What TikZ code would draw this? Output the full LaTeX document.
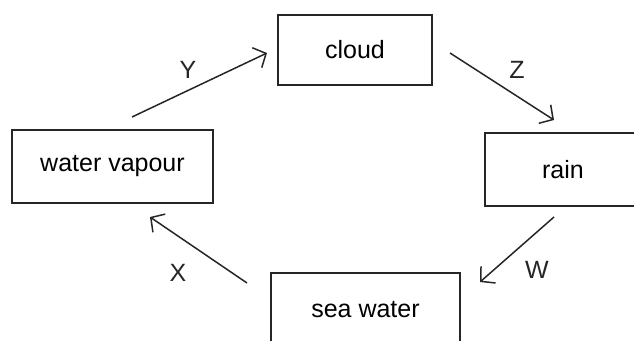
\documentclass[tikz,border=0pt]{standalone}
\usepackage{fontspec}
\setmainfont{Liberation Sans}
\usetikzlibrary{arrows.meta}
\tikzset{
	stagebox/.style={
			draw=black!85, line width=1.6pt, inner sep=0pt,
			font=\fontsize{25}{30}\selectfont
		},
	flow/.style={
			draw=black!85, line width=1.5pt,
			-{Straight Barb[length=10pt,width=22pt,line width=1.5pt]}
		},
	flowlabel/.style={font=\fontsize{25}{30}\selectfont, text=black!85}
}

\begin{document}
\begin{tikzpicture}[x=1pt,y=-1pt]
		% Fix the frame
		\useasboundingbox (0,0) rectangle (634,340);
		\clip (0,0) rectangle (634,340);
		% Draw the boxes
		\node[stagebox, minimum width=154pt, minimum height=70pt] (cloud) at (355,50) {cloud};
		\node[stagebox, minimum width=156pt, minimum height=73pt] (rain) at (563,169.5) {rain};
		\node[stagebox, minimum width=189pt, minimum height=74pt] (sea) at (365.5,310) {sea water};
		\node[stagebox, minimum width=201pt, minimum height=73pt] (vapour) at (112.5,166.5) {water vapour};
		% Draw the arrow ends
		\coordinate (yfrom) at (132,117);
		\coordinate (yto) at (267,53);
		\coordinate (zfrom) at (450,53);
		\coordinate (zto) at (554,120);
		\coordinate (wfrom) at (554,217);
		\coordinate (wto) at (480,282);
		\coordinate (xfrom) at (247,283);
		\coordinate (xto) at (150,217);
		% Draw the arrows
		\draw[flow] (yfrom) -- (yto);
		\draw[flow] (zfrom) -- (zto);
		\draw[flow] (wfrom) -- (wto);
		\draw[flow] (xfrom) -- (xto);
		% Draw the labels
		\node[flowlabel] (ylabel) at (188,70) {Y};
		\node[flowlabel] (zlabel) at (517,70) {Z};
		\node[flowlabel] (wlabel) at (537,270) {W};
		\node[flowlabel] (xlabel) at (178,273) {X};
	\end{tikzpicture}
\end{document}
